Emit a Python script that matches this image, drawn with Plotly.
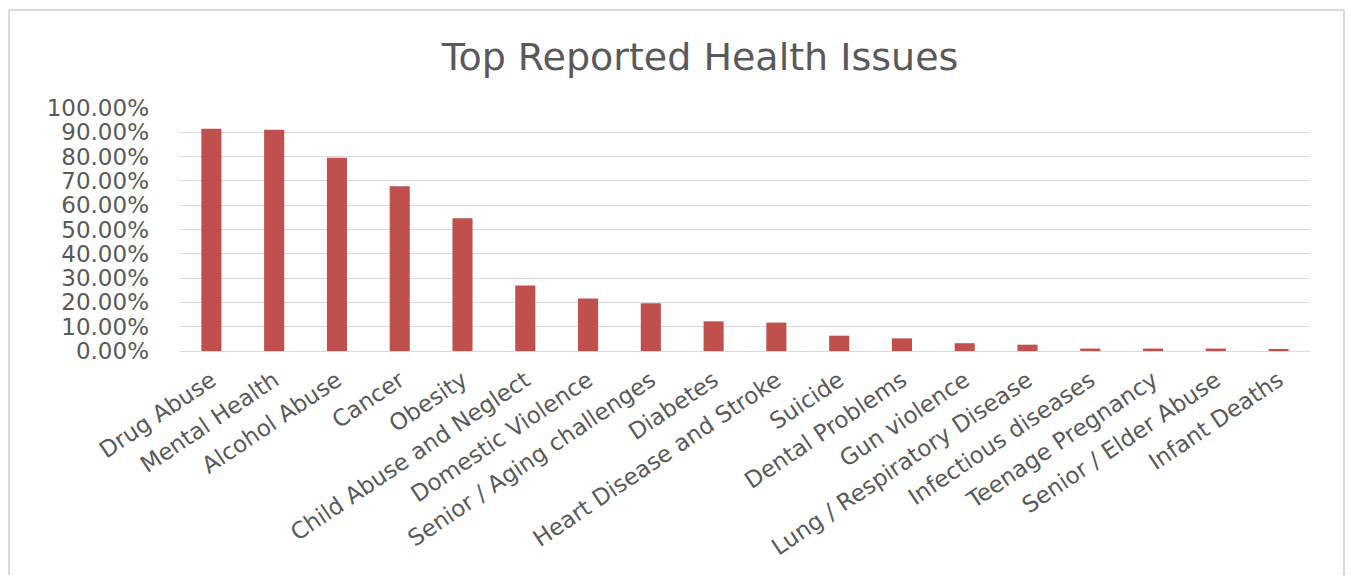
import plotly.graph_objects as go

categories = ["Drug Abuse", "Mental Health", "Alcohol Abuse", "Cancer", "Obesity",
              "Child Abuse and Neglect", "Domestic Violence", "Senior / Aging challenges",
              "Diabetes", "Heart Disease and Stroke", "Suicide", "Dental Problems",
              "Gun violence", "Lung / Respiratory Disease", "Infectious diseases",
              "Teenage Pregnancy", "Senior / Elder Abuse", "Infant Deaths"]
values = [0.915, 0.911, 0.795, 0.678, 0.546, 0.270, 0.216, 0.197, 0.122, 0.117,
          0.063, 0.052, 0.032, 0.026, 0.010, 0.010, 0.010, 0.006]
y_ticks = [i / 10 for i in range(11)]
y_tick_labels = [f"{v*100:.2f}%" for v in y_ticks]

OFF = 8  # page body offset
W, H = 1353 - 2 * OFF, 583 - 2 * OFF
L, R, T, B = 180 - OFF, 1310 - OFF, 108 - OFF, 351 - OFF

fig = go.Figure(go.Bar(x=categories, y=values, marker=dict(color="#C0504D", line=dict(width=0))))

def fx(p):
    return (p - L) / (R - L)

def fy(p):
    return (B - p) / (B - T)

border = dict(color="#d9d9d9", width=2)
xl, xr, yt, yb = fx(1), fx(W - 1), fy(10 - OFF), fy(H + 50)

fig.update_layout(
    width=W, height=H,
    margin=dict(l=L, r=W - R, t=T, b=H - B, pad=0),
    paper_bgcolor="white", plot_bgcolor="white",
    bargap=0.68,
    showlegend=False,
    font=dict(family="DejaVu Sans", color="#595959"),
    title=dict(text="Top Reported Health Issues", x=(700 - OFF) / W, xanchor="center",
               y=1 - (57 - OFF) / H, yanchor="middle",
               font=dict(size=38, family="DejaVu Sans", color="#595959")),
    xaxis=dict(tickangle=-34, tickfont=dict(size=23, color="#595959"),
               showgrid=False, showline=True, linecolor="#d9d9d9", linewidth=1,
               ticks="", ticklabelstandoff=6),
    yaxis=dict(range=[0, 1.0], tickvals=y_ticks, ticktext=y_tick_labels,
               tickfont=dict(size=23, color="#595959"), showgrid=True,
               gridcolor="#d9d9d9", gridwidth=1, zeroline=False, ticks="",
               ticklabelstandoff=30),
    shapes=[
        dict(type="line", xref="paper", yref="paper", x0=xl, x1=xr, y0=yt, y1=yt, line=border, layer="below"),
        dict(type="line", xref="paper", yref="paper", x0=xl, x1=xl, y0=yb, y1=yt, line=border, layer="below"),
        dict(type="line", xref="paper", yref="paper", x0=xr, x1=xr, y0=yb, y1=yt, line=border, layer="below"),
    ],
)

fig.write_html("out.html")
